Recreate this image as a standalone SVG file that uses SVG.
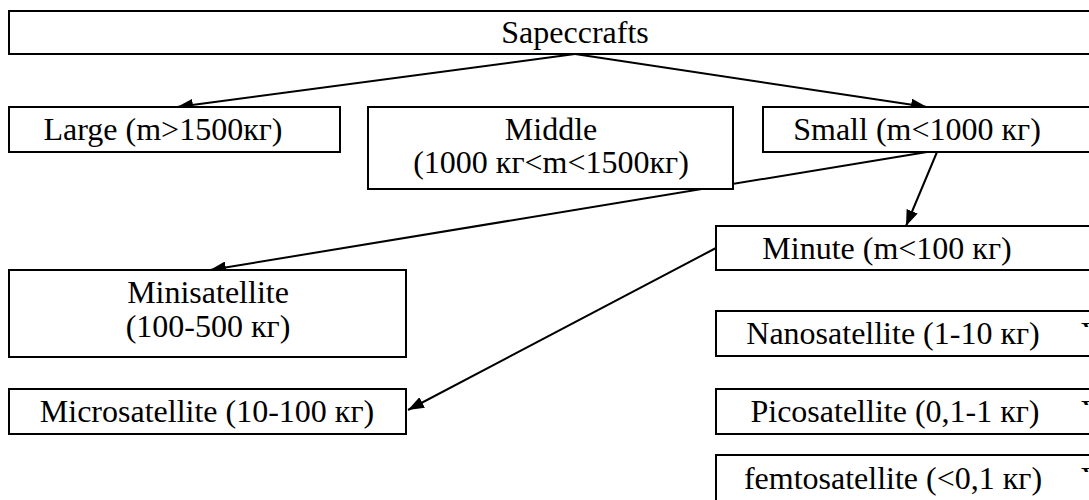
<svg xmlns="http://www.w3.org/2000/svg" width="1089" height="500" viewBox="0 0 1089 500">
<style>
.box{fill:#fff;stroke:#000;stroke-width:2}
.t{font-family:"Liberation Serif","Times New Roman",serif;font-size:32px;fill:#000;text-anchor:middle}
.e{font-family:"Liberation Serif","Times New Roman",serif;font-size:32px;fill:#000}
.c{stroke:#000;stroke-width:2;fill:none;marker-end:url(#ah)}
</style>
<defs>
<marker id="ah" viewBox="0 0 16 12" refX="16" refY="6" markerWidth="16" markerHeight="12" markerUnits="userSpaceOnUse" orient="auto">
<path d="M0,0 L16,6 L0,12 z" fill="#000"/>
</marker>
<clipPath id="vclip"><rect x="1070" y="0" width="19" height="500"/></clipPath>
<clipPath id="vn"><rect x="1070" y="316" width="19" height="11"/></clipPath>
<clipPath id="vp"><rect x="1070" y="394" width="19" height="11"/></clipPath>
<clipPath id="vf"><rect x="1070" y="461" width="19" height="11"/></clipPath>
</defs>
<rect width="1089" height="500" fill="#fff"/>
<g id="connectors">
<line class="c" x1="575" y1="54" x2="177" y2="107"/>
<line class="c" x1="575" y1="54" x2="927" y2="107"/>
<line class="c" x1="937" y1="152" x2="906" y2="226"/>
<line class="c" x1="927" y1="152" x2="210" y2="270"/>
<line class="c" x1="716" y1="248" x2="408" y2="410"/>
</g>
<g id="sapeccrafts"><rect class="box" x="9" y="11" width="1100" height="43"/><text class="t" x="575" y="43">Sapeccrafts</text></g>
<g id="large"><rect class="box" x="9" y="107" width="331" height="45"/><text class="t" x="163" y="140">Large (m&gt;1500кг)</text></g>
<g id="middle"><rect class="box" x="368" y="107" width="365" height="82"/><text class="t" x="551" y="140">Middle</text><text class="t" x="551" y="173">(1000 кг&lt;m&lt;1500кг)</text></g>
<g id="small"><rect class="box" x="763" y="107" width="340" height="45"/><text class="t" x="917" y="140">Small (m&lt;1000 кг)</text></g>
<g id="minute"><rect class="box" x="716" y="226" width="390" height="44"/><text class="t" x="887" y="259">Minute (m&lt;100 кг)</text></g>
<g id="minisatellite"><rect class="box" x="9" y="270" width="397" height="87"/><text class="t" x="208" y="303">Minisatellite</text><text class="t" x="208" y="337">(100-500 кг)</text></g>
<g id="microsatellite"><rect class="box" x="9" y="389" width="397" height="45"/><text class="t" x="207" y="422">Microsatellite (10-100 кг)</text></g>
<g id="nanosatellite"><rect class="box" x="716" y="311" width="390" height="45"/><text class="t" x="893" y="344">Nanosatellite (1-10 кг)</text><text class="e" x="1081" y="344" clip-path="url(#vn)">V</text></g>
<g id="picosatellite"><rect class="box" x="716" y="389" width="390" height="45"/><text class="t" x="895" y="422">Picosatellite (0,1-1 кг)</text><text class="e" x="1081" y="422" clip-path="url(#vp)">V</text></g>
<g id="femtosatellite"><rect class="box" x="716" y="455" width="390" height="60"/><text class="t" x="893" y="489">femtosatellite (&lt;0,1 кг)</text><text class="e" x="1081" y="489" clip-path="url(#vf)">V</text></g>
</svg>
